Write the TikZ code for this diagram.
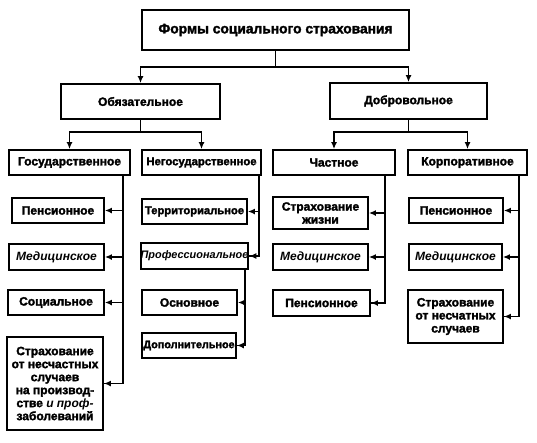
\documentclass[tikz,border=0pt]{standalone}
\usepackage{fontspec}
\setmainfont{Liberation Sans}[BoldFeatures={FakeBold=2.2}]
\usetikzlibrary{arrows.meta}
\newcommand{\fsz}[1]{\fontsize{#1}{13}\selectfont}
\tikzset{
  box/.style={draw, line width=1.8pt, inner sep=0pt, align=center,
    font=\bfseries\fontsize{12}{13}\selectfont},
  conn/.style={line width=1.5pt},
  arr/.style={line width=1.5pt, -{Latex[length=7pt,width=6pt]}}
}
\begin{document}
\begin{tikzpicture}[x=1pt,y=-1pt]
\useasboundingbox (0,0) rectangle (537,442);
% level 0
\node[box, minimum width=267pt, minimum height=40pt, font=\bfseries\fontsize{13.8}{15}\selectfont] (top) at (275.5,30) {Формы социального страхования};
% level 1
\node[box, minimum width=159pt, minimum height=35pt] (obl) at (140.5,101.5) {Обязательное};
\node[box, minimum width=157pt, minimum height=36pt] (dob) at (408.5,101) {Добровольное};
% level 2
\node[box, minimum width=121pt, minimum height=25pt] (gos) at (69.5,162.5) {Государственное};
\node[box, minimum width=119pt, minimum height=25pt] (negos) at (201.5,162.5) {\fsz{11.3}Негосударственное};
\node[box, minimum width=122pt, minimum height=25pt] (chast) at (334,162.5) {Частное};
\node[box, minimum width=119pt, minimum height=25pt] (korp) at (467.5,162.5) {Корпоративное};
% state children
\node[box, minimum width=92pt, minimum height=25pt] (pens1) at (58,210.5) {Пенсионное};
\node[box, minimum width=95pt, minimum height=26pt] (med1) at (56.5,257) {\itshape Медицинское};
\node[box, minimum width=96pt, minimum height=25pt] (soc) at (56,302.5) {Социальное};
\node[box, minimum width=96pt, minimum height=93pt] (acc1) at (55,383.5) {Страхование\\от несчастных\\случаев\\на производ-\\стве \textit{и проф-}\\заболеваний};
% non-state children
\node[box, minimum width=105pt, minimum height=25pt] (terr) at (194.5,211.5) {\fsz{11.2}Территориальное};
\node[box, minimum width=105pt, minimum height=26pt] (prof) at (194.5,256) {\fsz{10.9}\itshape Профессиональное};
\node[box, minimum width=95pt, minimum height=25pt] (osn) at (189.5,302.5) {Основное};
\node[box, minimum width=94pt, minimum height=25pt] (dop) at (189,345.5) {\fsz{10.8}Дополнительное};
% private children
\node[box, minimum width=95pt, minimum height=32pt] (life) at (320.5,213) {Страхование\\жизни};
\node[box, minimum width=95pt, minimum height=26pt] (med3) at (320.5,257) {\itshape Медицинское};
\node[box, minimum width=97pt, minimum height=26pt] (pens3) at (321.5,303) {Пенсионное};
% corporate children
\node[box, minimum width=94pt, minimum height=25pt] (pens4) at (456,210.5) {Пенсионное};
\node[box, minimum width=93pt, minimum height=26pt] (med4) at (455.5,257) {\itshape Медицинское};
\node[box, minimum width=95pt, minimum height=53pt] (acc4) at (455.5,316.5) {Страхование\\от несчатных\\случаев};
% top connectors
\coordinate (tj) at (275.5,67);
\draw[conn] (top.south) -- (tj);
\draw[arr] (tj) -| (obl.north);
\draw[arr] (tj) -| (dob.north);
\coordinate (oj) at (140.5,132);
\draw[conn] (obl.south) -- (oj);
\draw[arr] (oj) -| (gos.north);
\draw[arr] (oj) -| (negos.north);
\coordinate (dj) at (408.5,132);
\draw[conn] (dob.south) -- (dj);
\draw[arr] (dj) -| (chast.north);
\draw[arr] (dj) -| (korp.north);
% state branch
\coordinate (gl) at (123,175);
\draw[conn] (gl) |- (acc1.east);
\draw[arr] (gl |- pens1.east) -- (pens1.east);
\draw[arr] (gl |- med1.east) -- (med1.east);
\draw[arr] (gl |- soc.east) -- (soc.east);
\draw[arr] (gl |- acc1.east) -- (acc1.east);
% non-state branch
\coordinate (nl) at (259,175);
\draw[conn] (nl) |- (prof.east);
\draw[arr] (nl |- terr.east) -- (terr.east);
\draw[arr] (nl |- prof.east) -- (prof.east);
\coordinate (pl) at (245,269);
\draw[conn] (pl) |- (dop.east);
\draw[arr] (pl |- osn.east) -- (osn.east);
\draw[arr] (pl |- dop.east) -- (dop.east);
% private branch
\coordinate (cl) at (385,175);
\draw[conn] (cl) |- (pens3.east);
\draw[arr] (cl |- life.east) -- (life.east);
\draw[arr] (cl |- med3.east) -- (med3.east);
\draw[arr] (cl |- pens3.east) -- (pens3.east);
% corporate branch
\coordinate (kl) at (519,175);
\draw[conn] (kl) |- (acc4.east);
\draw[arr] (kl |- pens4.east) -- (pens4.east);
\draw[arr] (kl |- med4.east) -- (med4.east);
\draw[arr] (kl |- acc4.east) -- (acc4.east);
\end{tikzpicture}
\end{document}
